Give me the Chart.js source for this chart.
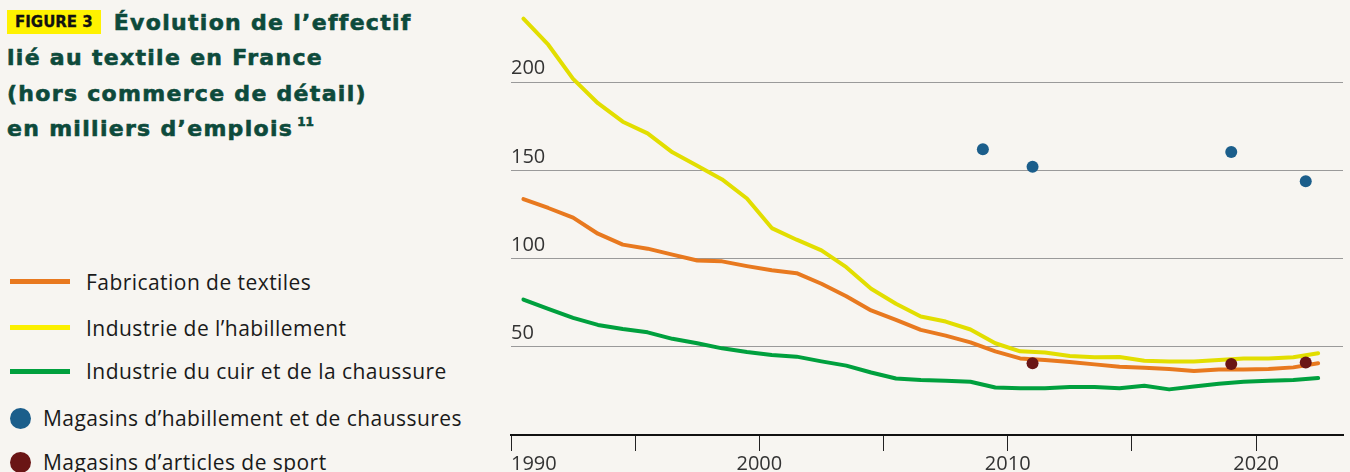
<!DOCTYPE html>
<html lang="fr">
<head>
<meta charset="utf-8">
<title>Évolution de l'effectif lié au textile en France</title>
<script src="https://cdn.jsdelivr.net/npm/chart.js@4.4.1/dist/chart.umd.min.js"></script>
<style>
  html, body {
    margin: 0;
    padding: 0;
    width: 1350px;
    height: 472px;
    overflow: hidden;
    background: #f7f5f1;
  }
  #title {
    position: absolute;
    left: 7px;
    top: 5px;
    font-family: "DejaVu Sans", "Inter", sans-serif;
    font-weight: 700;
    font-size: 22px;
    letter-spacing: 1.3px;
    line-height: 35.3px;
    color: #0d4a3b;
    -webkit-text-stroke: 0.6px #0d4a3b;
    white-space: nowrap;
  }
  #title .badge {
    display: inline-block;
    background: #fff200;
    color: #111;
    -webkit-text-stroke: 0.3px #111;
    font-size: 15px;
    font-weight: 700;
    letter-spacing: 0;
    line-height: 24px;
    padding: 0 8px;
    margin-right: 13px;
    vertical-align: 3px;
  }
  #title sup {
    font-size: 12px;
    font-weight: 700;
    letter-spacing: 0;
    vertical-align: 10px;
    line-height: 0;
    margin-left: 4px;
  }
  #legend {
    position: absolute;
    left: 0;
    top: 0;
    font-family: "Open Sans", "Noto Sans", sans-serif;
    font-size: 21px;
    letter-spacing: 0.45px;
    color: #1a1a1a;
  }
  .row {
    position: absolute;
    left: 10px;
    height: 30px;
    display: flex;
    align-items: center;
    white-space: nowrap;
  }
  .row .swatch-line {
    width: 60px;
    height: 5px;
    margin-right: 16px;
  }
  .row .swatch-dot {
    width: 21px;
    height: 21px;
    border-radius: 50%;
    margin-right: 12px;
  }
  #chartBox {
    position: absolute;
    left: 0;
    top: -12px;
    width: 1350px;
    height: 489px;
  }
</style>
</head>
<body>
<div id="title">
  <span class="badge">FIGURE 3</span>Évolution de l’effectif<br>
  lié au textile en France<br>
  (hors commerce de détail)<br>
  en milliers d’emplois<sup>11</sup>
</div>
<div id="legend"></div>
<div id="chartBox"><canvas id="chart"></canvas></div>

<script>
// Annual employment, in thousands of jobs (1990–2022)
const lineYears = [1990, 1991, 1992, 1993, 1994, 1995, 1996, 1997, 1998, 1999,
                   2000, 2001, 2002, 2003, 2004, 2005, 2006, 2007, 2008, 2009,
                   2010, 2011, 2012, 2013, 2014, 2015, 2016, 2017, 2018, 2019,
                   2020, 2021, 2022];

const fabricationTextiles = [133.9, 128.9, 123.4, 114.3, 108.1, 105.8, 102.4, 99.1, 98.6, 95.9,
                             93.5, 91.9, 85.9, 78.8, 70.7, 65.4, 59.7, 56.4, 52.6, 47.5,
                             43.5, 42.6, 41.5, 40.1, 38.8, 38.2, 37.5, 36.3, 37.2, 37.2,
                             37.5, 38.4, 40.7];

const industrieHabillement = [236.4, 221.6, 202.2, 188.4, 177.9, 171.3, 160.5, 152.9, 145.1, 134.3,
                              117.5, 110.9, 104.8, 95.3, 83.0, 74.5, 67.3, 64.4, 59.9, 52.1,
                              47.5, 46.8, 44.9, 44.1, 44.3, 42.2, 41.8, 41.8, 42.6, 43.5,
                              43.5, 44.1, 46.4];

const industrieCuirChaussure = [76.9, 71.6, 66.5, 62.5, 60.2, 58.3, 54.6, 52.1, 49.2, 47.1,
                                45.4, 44.5, 41.8, 39.4, 35.5, 32.1, 31.2, 30.8, 30.2, 27.0,
                                26.6, 26.6, 27.2, 27.2, 26.6, 28.0, 25.9, 27.6, 29.1, 30.2,
                                30.8, 31.2, 32.3];

// Retail survey years
const habillementShopYears = [2009, 2011, 2019, 2022];
const magasinsHabillement = [162.2, 152.3, 160.7, 144.1];

const sportShopYears = [2011, 2019, 2022];
const magasinsSport = [40.7, 40.3, 41.1];

// Axis ticks
const yTickValues = [50, 100, 150, 200];
const xTickYears = [1990, 1995, 2000, 2005, 2010, 2015, 2020];
const xLabelYears = [1990, 2000, 2010, 2020];

const seriesNames = {
  fabrication: "Fabrication de textiles",
  habillement: "Industrie de l’habillement",
  cuir: "Industrie du cuir et de la chaussure",
  shopsClothes: "Magasins d’habillement et de chaussures",
  shopsSport: "Magasins d’articles de sport"
};

const colors = {
  fabrication: "#e8791f",
  habillement: "#e2de00",
  habillementKey: "#fbf000",
  cuir: "#00a03e",
  shopsClothes: "#1b5e8b",
  shopsSport: "#6a1515"
};

// Annual figures are centred on the middle of each year
const toMidYear = (years, values) => years.map((y, i) => ({ x: y + 0.5, y: values[i] }));
const toPoints = (years, values) => years.map((y, i) => ({ x: y, y: values[i] }));

// Legend
const legendRows = [
  { type: "line", color: colors.fabrication, text: seriesNames.fabrication, center: 281.7 },
  { type: "line", color: colors.habillementKey, text: seriesNames.habillement, center: 327.7 },
  { type: "line", color: colors.cuir, text: seriesNames.cuir, center: 371 },
  { type: "dot", color: colors.shopsClothes, text: seriesNames.shopsClothes, center: 418.3 },
  { type: "dot", color: colors.shopsSport, text: seriesNames.shopsSport, center: 462 }
];
const legendEl = document.getElementById("legend");
legendRows.forEach(r => {
  const row = document.createElement("div");
  row.className = "row";
  row.style.top = (r.center - 15) + "px";
  const sw = document.createElement("span");
  sw.className = r.type === "line" ? "swatch-line" : "swatch-dot";
  sw.style.background = r.color;
  const label = document.createElement("span");
  label.textContent = r.text;
  row.appendChild(sw);
  row.appendChild(label);
  legendEl.appendChild(row);
});

const lineStyle = {
  borderWidth: 4,
  pointRadius: 0,
  tension: 0,
  borderJoinStyle: "round",
  borderCapStyle: "round",
  fill: false
};

const X_MIN = 1990;
const X_MAX = 2023.5;

new Chart(document.getElementById("chart"), {
  type: "line",
  data: {
    datasets: [
      {
        label: seriesNames.shopsClothes,
        data: toPoints(habillementShopYears, magasinsHabillement),
        showLine: false,
        pointRadius: 6,
        pointBorderWidth: 0,
        pointBackgroundColor: colors.shopsClothes,
        borderColor: colors.shopsClothes
      },
      {
        label: seriesNames.shopsSport,
        data: toPoints(sportShopYears, magasinsSport),
        showLine: false,
        pointRadius: 6,
        pointBorderWidth: 0,
        pointBackgroundColor: colors.shopsSport,
        borderColor: colors.shopsSport
      },
      Object.assign({
        label: seriesNames.habillement,
        data: toMidYear(lineYears, industrieHabillement),
        borderColor: colors.habillement
      }, lineStyle),
      Object.assign({
        label: seriesNames.fabrication,
        data: toMidYear(lineYears, fabricationTextiles),
        borderColor: colors.fabrication
      }, lineStyle),
      Object.assign({
        label: seriesNames.cuir,
        data: toMidYear(lineYears, industrieCuirChaussure),
        borderColor: colors.cuir
      }, lineStyle)
    ]
  },
  options: {
    responsive: true,
    maintainAspectRatio: false,
    animation: false,
    events: [],
    layout: { padding: { left: 511, right: 7, top: 0, bottom: 0 } },
    plugins: {
      legend: { display: false },
      tooltip: { enabled: false }
    },
    scales: {
      x: {
        type: "linear",
        min: X_MIN,
        max: X_MAX,
        afterBuildTicks: scale => {
          scale.ticks = xTickYears.map(v => ({ value: v })).concat([{ value: X_MAX }]);
        },
        grid: {
          drawOnChartArea: false,
          drawTicks: true,
          tickLength: 16,
          tickWidth: 1,
          tickColor: ctx => (ctx.tick && xTickYears.includes(ctx.tick.value)) ? "#222" : "rgba(0,0,0,0)"
        },
        border: { display: true, color: "#111", width: 2 },
        ticks: {
          autoSkip: false,
          maxRotation: 0,
          align: "inner",
          padding: 1,
          color: "#333",
          font: { family: "'Open Sans', 'Noto Sans', sans-serif", size: 20 },
          callback: v => xLabelYears.includes(v) ? String(v) : ""
        }
      },
      y: {
        min: 0,
        max: 247,
        afterBuildTicks: scale => {
          scale.ticks = yTickValues.map(v => ({ value: v }));
        },
        afterFit: scale => { scale.width = 0; },
        grid: {
          drawTicks: false,
          color: "#9a9a9a",
          lineWidth: 1
        },
        border: { display: false },
        ticks: {
          mirror: true,
          padding: 0,
          labelOffset: -14,
          color: "#333",
          font: { family: "'Open Sans', 'Noto Sans', sans-serif", size: 20 }
        }
      }
    }
  }
});
</script>
</body>
</html>
